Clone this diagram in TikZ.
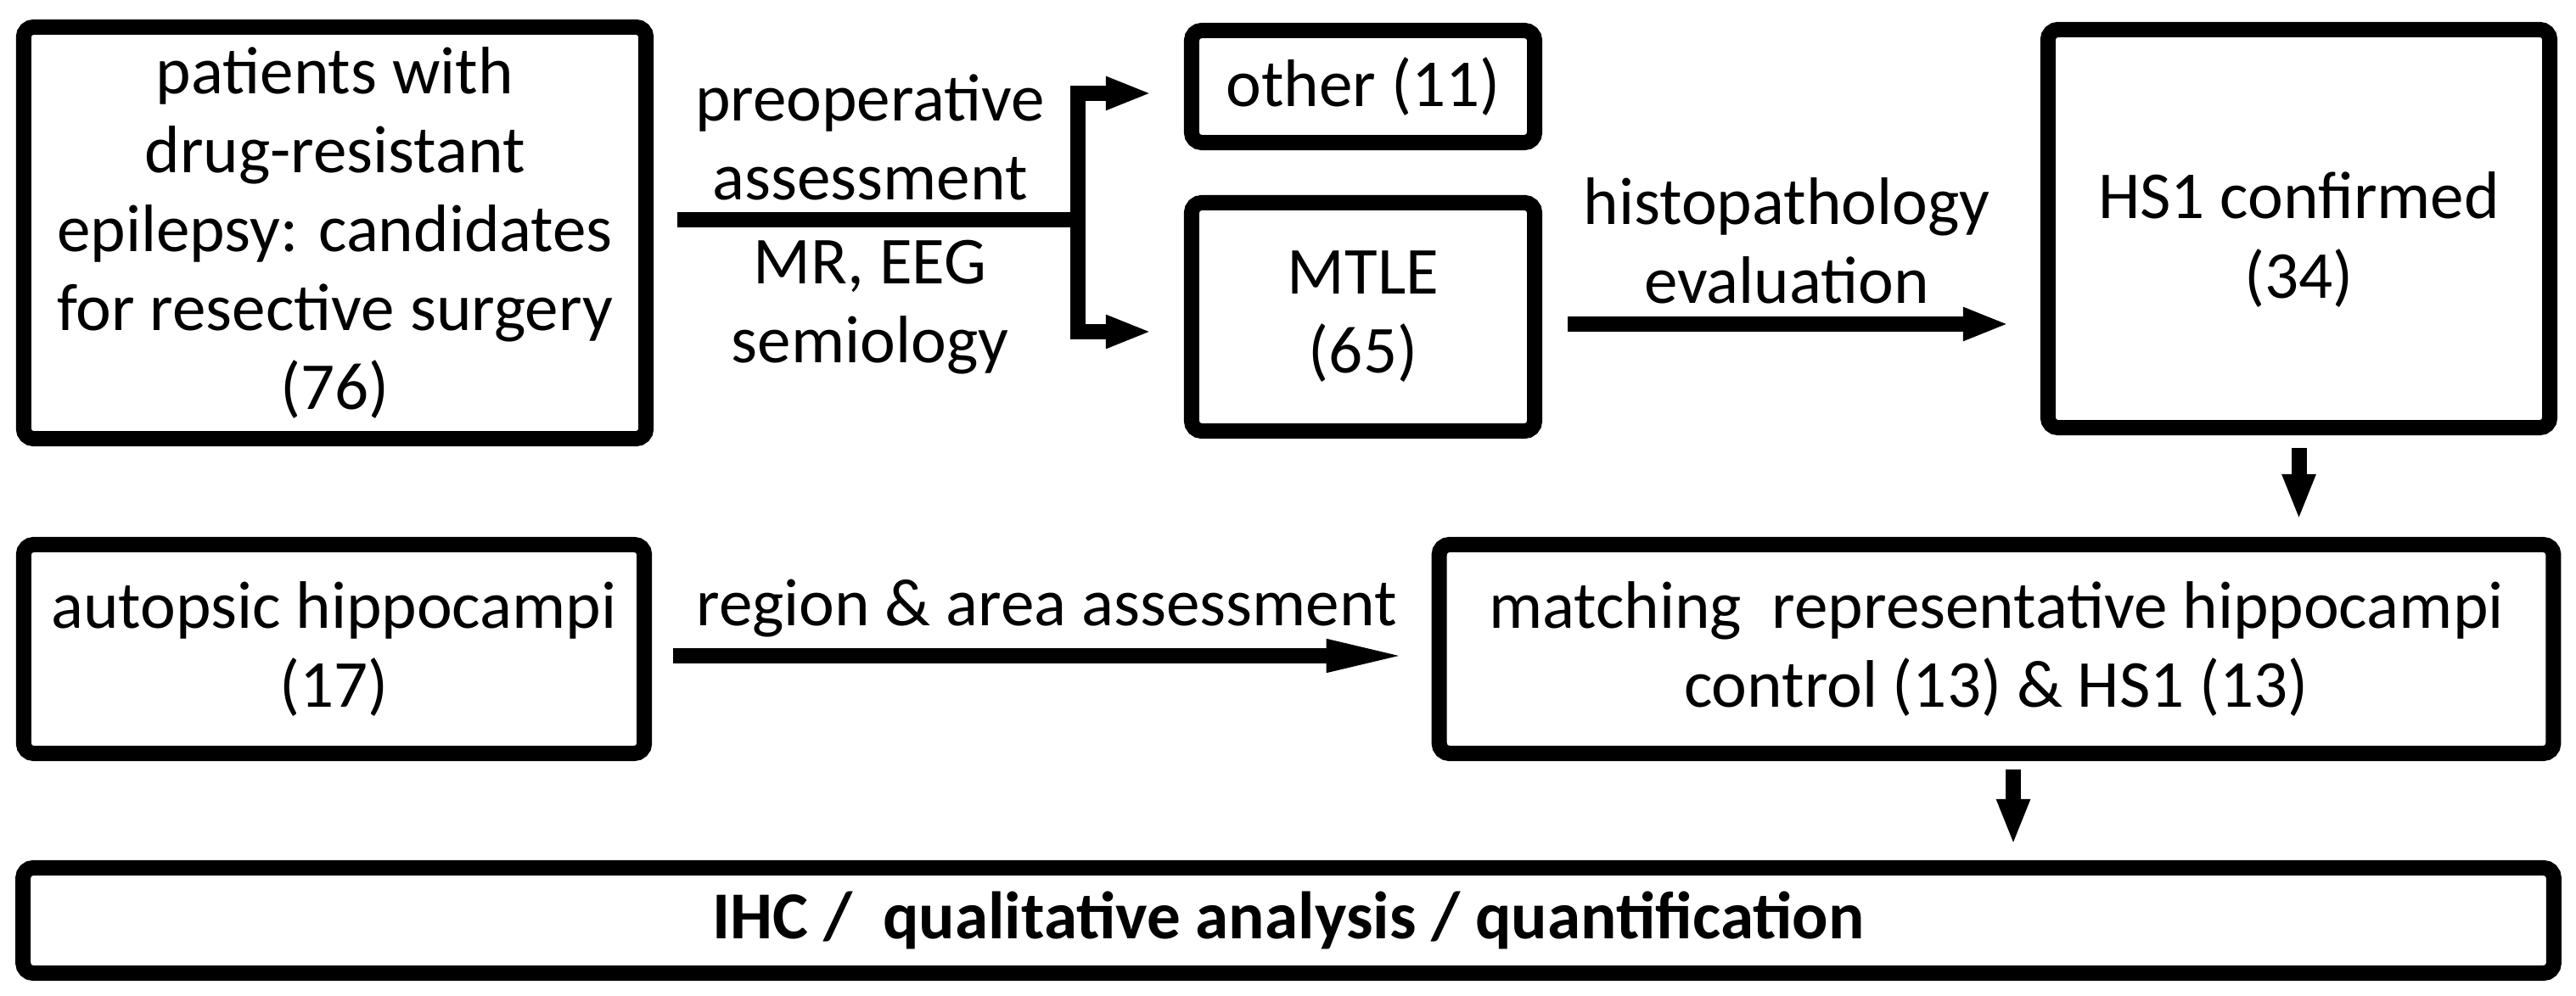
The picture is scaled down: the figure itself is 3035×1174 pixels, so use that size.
\documentclass[tikz,border=0pt]{standalone}
\usepackage{fontspec}
\setmainfont{Carlito}
\usetikzlibrary{arrows.meta}

\tikzset{
  box/.style={draw, line width=0.18cm, rounded corners=0.12cm, align=center, inner sep=0pt,
    font=\fontsize{22.5}{26.5}\selectfont},
  lbl/.style={align=center, inner sep=0pt, font=\fontsize{22.5}{26.5}\selectfont},
  trunk/.style={line width=0.18cm, line join=miter},
  flow/.style={trunk, -{Triangle[length=0.54cm, width=0.36cm]}},
  longflow/.style={trunk, -{Triangle[length=1.0cm, width=0.34cm]}},
}

\begin{document}
\begin{tikzpicture}[x=0.01cm, y=-0.01cm]
\useasboundingbox (0,0) rectangle (3035,1174);

% first row
\node[box, minimum width=7.33cm, minimum height=4.85cm] (patients) at (394.5,274.5)
  {patients with\\drug-resistant\\epilepsy: candidates\\for resective surgery\\(76)};
\node[box, minimum width=4.04cm, minimum height=1.32cm] (other) at (1606,102) {other (11)};
\node[box, minimum width=4.04cm, minimum height=2.69cm] (mtle) at (1606,373.5) {MTLE\\(65)};
\node[box, minimum width=5.91cm, minimum height=4.69cm] (hs1) at (2708.5,269.5) {};
\node[lbl] (hs1text) at ([yshift=-0.13cm]hs1) {HS1 confirmed\\(34)};

% second row
\node[box, minimum width=7.31cm, minimum height=2.46cm] (autopsic) at (393.5,765) {autopsic hippocampi\\(17)};
\node[box, minimum width=13.12cm, minimum height=2.46cm] (matching) at (2352,765)
  {matching\ \ representative hippocampi\\control (13) \& HS1 (13)};

% last row
\node[box, minimum width=29.8cm, minimum height=1.24cm, font=\bfseries\fontsize{22.5}{26.5}\selectfont]
  (ihc) at (1518,1085) {IHC /\ \ qualitative analysis / quantification};

% labels on the arrows
\node[lbl] (preop) at (1025,162) {preoperative\\assessment};
\node[lbl] (mreeg) at (1025,362) {MR, EEG\\semiology};
\node[lbl] (histo) at (2105,284) {histopathology\\evaluation};
\node[lbl, anchor=base] (region) at (1233,738) {region \& area assessment};

% connectors
\coordinate (split) at (1270,259.5);
\coordinate (up) at (1270,110);
\coordinate (down) at (1270,391);
\draw[trunk, shorten <=0.28cm] (patients.east |- split) -- (split);
\draw[flow, shorten >=0.38cm] (split) -- (up) -- (other.west |- up);
\draw[flow, shorten >=0.38cm] (split) -- (down) -- (mtle.west |- down);
\draw[flow, shorten <=0.30cm, shorten >=0.37cm] (mtle.east |- 0,382) -- (hs1.west |- 0,382);
\draw[flow, shorten <=0.15cm, shorten >=0.20cm] (hs1.south) -- (hs1.south |- matching.north);
\draw[longflow, shorten <=0.25cm, shorten >=0.24cm] (autopsic.east |- 0,773) -- (matching.west |- 0,773);
\draw[flow, shorten <=0.10cm, shorten >=0.18cm] ([xshift=0.20cm]matching.south) -- ([xshift=0.20cm]matching.south |- ihc.north);
\end{tikzpicture}
\end{document}
